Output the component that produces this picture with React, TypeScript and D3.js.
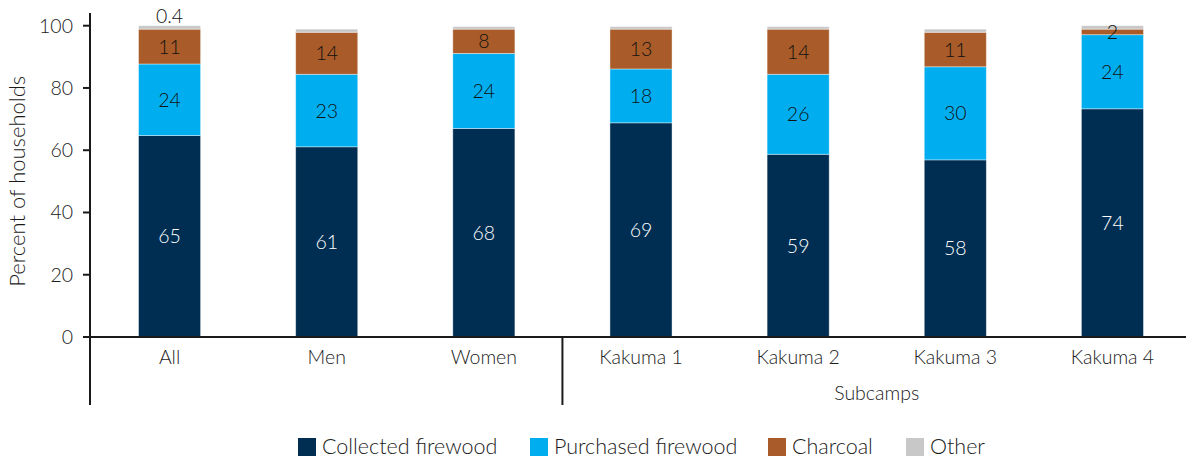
import React, { useEffect, useRef } from "react";
import * as d3 from "d3";

const categories = ["All", "Men", "Women", "Kakuma 1", "Kakuma 2", "Kakuma 3", "Kakuma 4"];
const seriesNames = ["Collected firewood", "Purchased firewood", "Charcoal", "Other"];

// bar heights
const collected = [64.7, 61.1, 67.0, 68.8, 58.7, 56.9, 73.3];
const purchased = [23.0, 23.3, 24.1, 17.3, 25.7, 29.9, 23.8];
const charcoal = [11.2, 13.5, 7.8, 12.8, 14.5, 11.1, 1.8];
const other = [1.1, 1.0, 0.8, 0.8, 0.8, 1.0, 1.1];

// printed labels
const collectedLabels = ["65", "61", "68", "69", "59", "58", "74"];
const purchasedLabels = ["24", "23", "24", "18", "26", "30", "24"];
const charcoalLabels = ["11", "14", "8", "13", "14", "11", "2"];
const otherLabels = ["0.4", "", "", "", "", "", ""];

const yTicks = [0, 20, 40, 60, 80, 100];

const colors = ["#002e52", "#00aeef", "#a95c29", "#c8c8c8"];
const labelColors = ["#ffffff", "#111111", "#111111", "#111111"];

const FONT = "Lato, 'Open Sans', sans-serif";

export default function App() {
  const ref = useRef<SVGSVGElement>(null);

  useEffect(() => {
    const width = 1186;
    const height = 458;
    const svg = d3.select(ref.current);
    svg.selectAll("*").remove();
    svg
      .attr("width", width)
      .attr("height", height)
      .style("font-family", FONT)
      .style("font-weight", 300);

    const x = d3
      .scaleBand<string>()
      .domain(categories)
      .range([91, 1191])
      .paddingInner(0.605)
      .paddingOuter(0.3025);
    const y = d3.scaleLinear().domain([0, 100]).range([337, 25.7]);

    const values = [collected, purchased, charcoal, other];
    const labels = [collectedLabels, purchasedLabels, charcoalLabels, otherLabels];

    const rows = categories.map((c, i) => {
      const r: any = { cat: c };
      seriesNames.forEach((s, k) => (r[s] = values[k][i]));
      return r;
    });
    const stacked = d3.stack<any>().keys(seriesNames)(rows);

    // bars
    stacked.forEach((layer, k) => {
      svg
        .append("g")
        .selectAll("rect")
        .data(layer)
        .join("rect")
        .attr("x", (d) => x(d.data.cat)!)
        .attr("width", x.bandwidth())
        .attr("y", (d) => y(d[1]))
        .attr("height", (d) => y(d[0]) - y(d[1]))
        .attr("fill", colors[k])
        .attr("stroke", "#ffffff")
        .attr("stroke-opacity", 0.5)
        .attr("stroke-width", 0.8);
    });

    // value labels
    stacked.forEach((layer, k) => {
      svg
        .append("g")
        .selectAll("text")
        .data(layer)
        .join("text")
        .attr("x", (d) => x(d.data.cat)! + x.bandwidth() / 2)
        .attr("y", (d) =>
          k === 3 ? y(d[1]) - 3 : (y(d[0]) + y(d[1])) / 2 + 7
        )
        .attr("text-anchor", "middle")
        .attr("font-size", 19.5)
        .attr("fill", labelColors[k])
        .text((_d, i) => labels[k][i]);
    });

    // y axis
    const axisColor = "#1a1a1a";
    svg
      .append("line")
      .attr("x1", 90)
      .attr("x2", 90)
      .attr("y1", 13)
      .attr("y2", 405)
      .attr("stroke", axisColor)
      .attr("stroke-width", 2);

    const ticks = svg.append("g").selectAll("g").data(yTicks).join("g");
    ticks
      .append("line")
      .attr("x1", 83)
      .attr("x2", 90)
      .attr("y1", (d) => y(d))
      .attr("y2", (d) => y(d))
      .attr("stroke", axisColor)
      .attr("stroke-width", 2);
    ticks
      .append("text")
      .attr("x", 73)
      .attr("y", (d) => y(d) + 7)
      .attr("text-anchor", "end")
      .attr("font-size", 19.5)
      .attr("fill", "#1a1a1a")
      .text((d) => d);

    svg
      .append("text")
      .attr("transform", `translate(25, ${(y(0) + y(100)) / 2}) rotate(-90)`)
      .attr("text-anchor", "middle")
      .attr("font-size", 22)
      .attr("fill", "#1a1a1a")
      .text("Percent of households");

    // baseline
    svg
      .append("line")
      .attr("x1", 83)
      .attr("x2", width)
      .attr("y1", y(0))
      .attr("y2", y(0))
      .attr("stroke", axisColor)
      .attr("stroke-width", 2);

    // separator between groups
    const sepX = (x("Women")! + x("Kakuma 1")! + x.bandwidth()) / 2;
    svg
      .append("line")
      .attr("x1", sepX)
      .attr("x2", sepX)
      .attr("y1", y(0))
      .attr("y2", 405)
      .attr("stroke", axisColor)
      .attr("stroke-width", 2);

    // category labels
    svg
      .append("g")
      .selectAll("text")
      .data(categories)
      .join("text")
      .attr("x", (d) => x(d)! + x.bandwidth() / 2)
      .attr("y", 364)
      .attr("text-anchor", "middle")
      .attr("font-size", 19.5)
      .attr("fill", "#1a1a1a")
      .text((d) => d);

    const subX = (x("Kakuma 1")! + x("Kakuma 4")! + x.bandwidth()) / 2;
    svg
      .append("text")
      .attr("x", subX)
      .attr("y", 400)
      .attr("text-anchor", "middle")
      .attr("font-size", 19.5)
      .attr("fill", "#1a1a1a")
      .text("Subcamps");

    // legend
    const legendX = [298, 530, 768, 906];
    const legend = svg
      .append("g")
      .selectAll("g")
      .data(seriesNames)
      .join("g")
      .attr("transform", (_d, i) => `translate(${legendX[i]}, 438)`);
    legend
      .append("rect")
      .attr("width", 18)
      .attr("height", 18)
      .attr("fill", (_d, i) => colors[i]);
    legend
      .append("text")
      .attr("x", 24)
      .attr("y", 16)
      .attr("font-size", 21.5)
      .attr("fill", "#1a1a1a")
      .text((d) => d);
  }, []);

  return (
    <svg
      ref={ref}
      style={{ position: "absolute", left: 0, top: 0, display: "block" }}
    />
  );
}
